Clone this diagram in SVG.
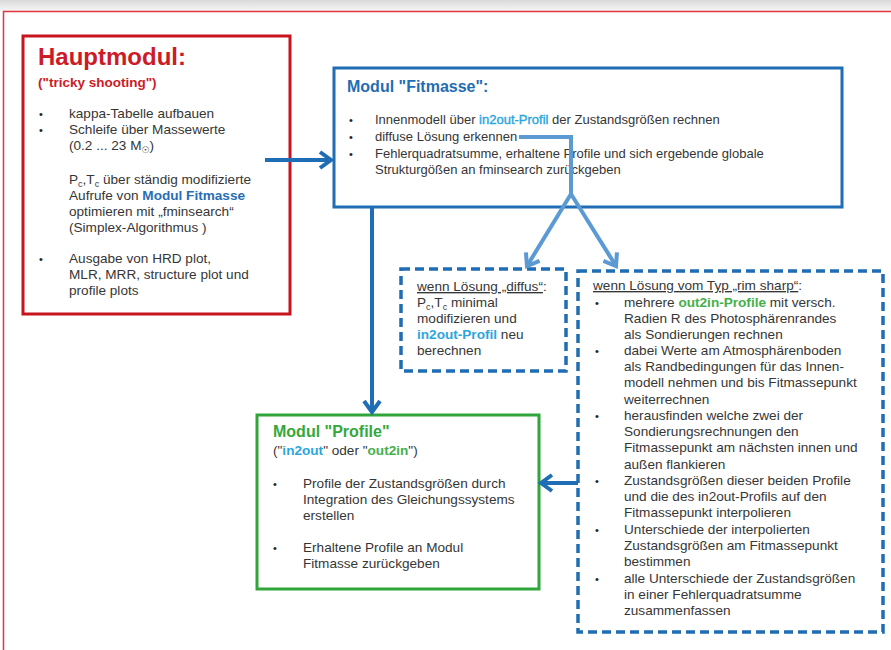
<svg xmlns="http://www.w3.org/2000/svg" width="891" height="650" viewBox="0 0 891 650">
<defs>
<linearGradient id="topShade" x1="0" y1="0" x2="0" y2="1">
<stop offset="0" stop-color="#d9d9d9"/>
<stop offset="1" stop-color="#f6f6f6"/>
</linearGradient>
<marker id="ahDark" markerUnits="userSpaceOnUse" markerWidth="18" markerHeight="20" refX="13" refY="10" orient="auto" viewBox="0 0 18 20">
<path d="M2,2 L13,10 L2,18" fill="none" stroke="#1f6db4" stroke-width="4" stroke-linejoin="miter"/>
</marker>
<marker id="ahLight" markerUnits="userSpaceOnUse" markerWidth="18" markerHeight="20" refX="13" refY="10" orient="auto" viewBox="0 0 18 20">
<path d="M2,2 L13,10 L2,18" fill="none" stroke="#5b9ad3" stroke-width="4" stroke-linejoin="miter"/>
</marker>
</defs>
<style>
text { font-family: "Liberation Sans", Arial, sans-serif; fill: #363636; }
.body { font-size: 13.6px; }
.fbody { font-size: 13px; }
.bul { font-size: 11px; fill: #222; }
.red { fill: #cc1b27; font-weight: bold; }
.blueT { fill: #1f6db4; font-weight: bold; font-size: 16px; }
.greenT { fill: #34a83a; font-weight: bold; font-size: 16px; }
.cyan { fill: #2aa6de; font-weight: bold; }
.cyanR { fill: #2aa6de; stroke: #2aa6de; stroke-width: 0.4; }
.green { fill: #45b04a; font-weight: bold; }
.link { fill: #2a6db5; font-weight: bold; }
.solidBox { fill: #ffffff; stroke-width: 3; }
.dashBox { fill: #ffffff; stroke: #1f6db4; stroke-width: 3.5; stroke-dasharray: 9 5; }
.conDark { fill: none; stroke: #1f6db4; stroke-width: 4; }
.conLight { fill: none; stroke: #5b9ad3; stroke-width: 4; }
</style>
<rect x="0" y="0" width="891" height="650" fill="#ffffff"/>
<rect x="0" y="0" width="891" height="11" fill="url(#topShade)"/>
<rect x="3.5" y="11.5" width="900" height="700" fill="none" stroke="#e2343d" stroke-width="1.5"/>

<g id="node-hauptmodul">
<rect class="solidBox" x="23" y="36" width="267" height="278" stroke="#c8141f"/>
<text x="38" y="65" class="red" font-size="24">Hauptmodul:</text>
<text x="38" y="87" class="red" font-size="13.5">("tricky shooting")</text>
<text class="bul" x="39" y="118">•</text>
<text class="bul" x="39" y="134">•</text>
<text class="bul" x="39" y="263">•</text>
<text class="body" x="69" y="118">kappa-Tabelle aufbauen</text>
<text class="body" x="69" y="134">Schleife über Massewerte</text>
<text class="body" x="69" y="150">(0.2 ... 23 M<tspan font-size="9" dy="3" font-family="DejaVu Sans">☉</tspan><tspan dy="-3">)</tspan></text>
<text class="body" x="69" y="184">P<tspan font-size="9" dy="3">c</tspan><tspan dy="-3">,T</tspan><tspan font-size="9" dy="3">c</tspan><tspan dy="-3"> über ständig modifizierte</tspan></text>
<text class="body" x="69" y="200">Aufrufe von <tspan class="link">Modul Fitmasse</tspan></text>
<text class="body" x="69" y="216">optimieren mit „fminsearch“</text>
<text class="body" x="69" y="232">(Simplex-Algorithmus )</text>
<text class="body" x="69" y="263">Ausgabe von HRD plot,</text>
<text class="body" x="69" y="279">MLR, MRR, structure plot und</text>
<text class="body" x="69" y="295">profile plots</text>
</g>

<g id="node-fitmasse">
<rect class="solidBox" x="334" y="68" width="508" height="139" stroke="#1f6db4"/>
<text x="347" y="92" class="blueT">Modul "Fitmasse":</text>
<text class="bul" x="349" y="124">•</text>
<text class="bul" x="349" y="141">•</text>
<text class="bul" x="349" y="158">•</text>
<text class="fbody" x="375" y="124">Innenmodell über <tspan class="cyanR">in2out-Profil</tspan> der Zustandsgrößen rechnen</text>
<text class="fbody" x="375" y="141">diffuse Lösung erkennen</text>
<text class="fbody" x="375" y="158">Fehlerquadratsumme, erhaltene Profile und sich ergebende globale</text>
<text class="fbody" x="375" y="174">Strukturgößen an fminsearch zurückgeben</text>
</g>

<g id="node-diffus">
<rect class="dashBox" x="401" y="269" width="165" height="102"/>
<text class="body" x="417" y="291"><tspan text-decoration="underline">wenn Lösung „diffus“</tspan>:</text>
<text class="body" x="417" y="307">P<tspan font-size="9" dy="3">c</tspan><tspan dy="-3">,T</tspan><tspan font-size="9" dy="3">c</tspan><tspan dy="-3"> minimal</tspan></text>
<text class="body" x="417" y="323">modifizieren und</text>
<text class="body" x="417" y="339"><tspan class="cyan">in2out-Profil</tspan> neu</text>
<text class="body" x="417" y="355">berechnen</text>
</g>

<g id="node-rimsharp">
<rect class="dashBox" x="578" y="271" width="305" height="361"/>
<text class="body" x="593" y="290"><tspan text-decoration="underline">wenn Lösung vom Typ „rim sharp“</tspan>:</text>
<text class="bul" x="595" y="307">•</text>
<text class="bul" x="595" y="355">•</text>
<text class="bul" x="595" y="420">•</text>
<text class="bul" x="595" y="485">•</text>
<text class="bul" x="595" y="534">•</text>
<text class="bul" x="595" y="583">•</text>
<text class="body" x="624" y="307">mehrere <tspan class="green">out2in-Profile</tspan> mit versch.</text>
<text class="body" x="624" y="323">Radien R des Photosphärenrandes</text>
<text class="body" x="624" y="339">als Sondierungen rechnen</text>
<text class="body" x="624" y="355">dabei Werte am Atmosphärenboden</text>
<text class="body" x="624" y="371">als Randbedingungen für das Innen-</text>
<text class="body" x="624" y="387">modell nehmen und bis Fitmassepunkt</text>
<text class="body" x="624" y="404">weiterrechnen</text>
<text class="body" x="624" y="420">herausfinden welche zwei der</text>
<text class="body" x="624" y="436">Sondierungsrechnungen den</text>
<text class="body" x="624" y="452">Fitmassepunkt am nächsten innen und</text>
<text class="body" x="624" y="469">außen flankieren</text>
<text class="body" x="624" y="485">Zustandsgrößen dieser beiden Profile</text>
<text class="body" x="624" y="501">und die des in2out-Profils auf den</text>
<text class="body" x="624" y="517">Fitmassepunkt interpolieren</text>
<text class="body" x="624" y="534">Unterschiede der interpolierten</text>
<text class="body" x="624" y="550">Zustandsgrößen am Fitmassepunkt</text>
<text class="body" x="624" y="566">bestimmen</text>
<text class="body" x="624" y="583">alle Unterschiede der Zustandsgrößen</text>
<text class="body" x="624" y="599">in einer Fehlerquadratsumme</text>
<text class="body" x="624" y="615">zusammenfassen</text>
</g>

<g id="node-profile">
<rect class="solidBox" x="257" y="415" width="282" height="174" stroke="#2fa53a"/>
<text x="273" y="437" class="greenT">Modul "Profile"</text>
<text class="body" x="273" y="455">("<tspan class="cyan">in2out</tspan>" oder "<tspan class="green">out2in</tspan>")</text>
<text class="bul" x="273" y="488">•</text>
<text class="bul" x="273" y="552">•</text>
<text class="body" x="303" y="488">Profile der Zustandsgrößen durch</text>
<text class="body" x="303" y="504">Integration des Gleichungssystems</text>
<text class="body" x="303" y="520">erstellen</text>
<text class="body" x="303" y="552">Erhaltene Profile an Modul</text>
<text class="body" x="303" y="568">Fitmasse zurückgeben</text>
</g>

<g id="connectors">
<path class="conDark" d="M265,160 L331,160" marker-end="url(#ahDark)"/>
<path class="conDark" d="M372,207 L372,412" marker-end="url(#ahDark)"/>
<path class="conDark" d="M578,483 L541,483" marker-end="url(#ahDark)"/>
<path class="conLight" d="M519,137 L571,137 L571,194"/>
<path class="conLight" d="M571,194 L527,266" marker-end="url(#ahLight)"/>
<path class="conLight" d="M571,194 L616,266" marker-end="url(#ahLight)"/>
</g>
</svg>
